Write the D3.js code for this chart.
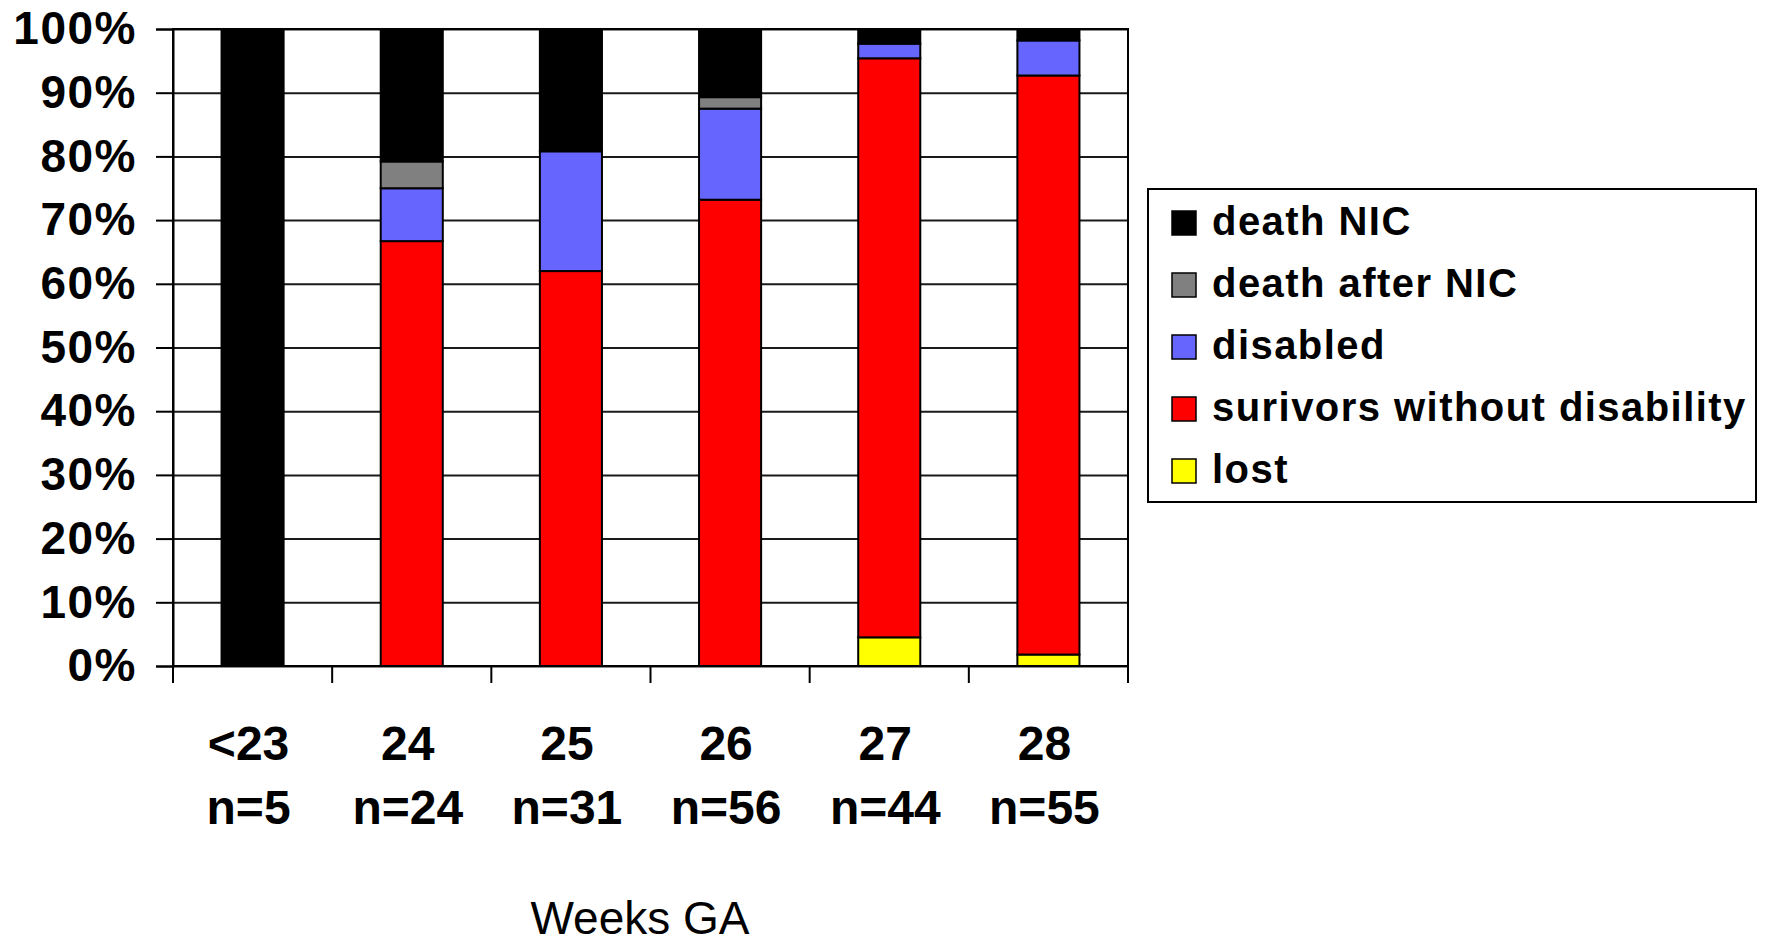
<!DOCTYPE html>
<html>
<head>
<meta charset="utf-8">
<script src="https://cdn.jsdelivr.net/npm/d3@7"></script>
<style>
  html, body { margin: 0; padding: 0; background: #fff; }
  svg { display: block; }
  text { font-family: Arial, "Liberation Sans", sans-serif; fill: #000; }
</style>
</head>
<body>
<svg id="chart" width="1765" height="945"></svg>
<script>
// Outcome by gestational age (percent of each group)
const categories = ["<23", "24", "25", "26", "27", "28"];
const groupSizes = ["n=5", "n=24", "n=31", "n=56", "n=44", "n=55"];

const lost       = [0,   0,    0,    0,    4.5,  1.8];
const survivors  = [0,   66.7, 62.0, 73.2, 90.9, 90.9];
const disabled   = [0,   8.3,  18.8, 14.3, 2.3,  5.5];
const deathAfter = [0,   4.2,  0,    1.8,  0,    0];
const deathNIC   = [100, 20.8, 19.2, 10.7, 2.3,  1.8];

const yTicks = [0, 10, 20, 30, 40, 50, 60, 70, 80, 90, 100];
const xTitle = "Weeks GA";

// stacking order: bottom first
const seriesKeys = ["lost", "survivors", "disabled", "deathAfter", "deathNIC"];
const seriesValues = { lost, survivors, disabled, deathAfter, deathNIC };
const seriesColors = {
  deathNIC: "#000000",
  deathAfter: "#808080",
  disabled: "#6666FF",
  survivors: "#FF0000",
  lost: "#FFFF00"
};
// legend order: top first
const legendKeys = ["deathNIC", "deathAfter", "disabled", "survivors", "lost"];
const legendLabels = ["death NIC", "death after NIC", "disabled", "surivors without disability", "lost"];

const rows = categories.map((c, i) => {
  const r = { cat: c };
  seriesKeys.forEach(k => r[k] = seriesValues[k][i]);
  return r;
});

const svg = d3.select("#chart");
const plot = { left: 173, right: 1128, top: 29, bottom: 666 };
const plotW = plot.right - plot.left;

const x = d3.scaleBand()
  .domain(categories)
  .range([plot.left, plot.right])
  .paddingInner(0.61)
  .paddingOuter(0.305);

const y = d3.scaleLinear().domain([0, 100]).range([plot.bottom, plot.top]);

// horizontal gridlines
svg.append("g")
  .attr("transform", `translate(${plot.left},0)`)
  .call(d3.axisLeft(y).tickValues(yTicks).tickSize(-plotW).tickFormat(""))
  .call(g => g.select(".domain").remove())
  .call(g => g.selectAll("line").attr("stroke", "#1a1a1a").attr("stroke-width", 2));

// stacked bars
const stack = d3.stack().keys(seriesKeys)(rows);
svg.append("g")
  .selectAll("g")
  .data(stack)
  .join("g")
  .attr("fill", d => seriesColors[d.key])
  .selectAll("rect")
  .data(d => d.filter(p => p[1] - p[0] > 0))
  .join("rect")
  .attr("x", d => x(d.data.cat))
  .attr("width", x.bandwidth())
  .attr("y", d => y(d[1]))
  .attr("height", d => y(d[0]) - y(d[1]))
  .attr("stroke", "#000")
  .attr("stroke-width", 2);

// plot frame
svg.append("rect")
  .attr("x", plot.left).attr("y", plot.top)
  .attr("width", plotW).attr("height", plot.bottom - plot.top)
  .attr("fill", "none").attr("stroke", "#000").attr("stroke-width", 2);

// y axis with percent labels
svg.append("g")
  .attr("transform", `translate(${plot.left},0)`)
  .call(d3.axisLeft(y).tickValues(yTicks).tickSize(17).tickPadding(19).tickFormat(d => d + "%"))
  .call(g => g.select(".domain").attr("stroke", "#000").attr("stroke-width", 2))
  .call(g => g.selectAll("line").attr("stroke", "#000").attr("stroke-width", 2))
  .call(g => g.selectAll("text")
    .attr("font-size", 46).attr("font-weight", "bold")
    .attr("letter-spacing", 1.5)
    .attr("font-family", "Arial, 'Liberation Sans', sans-serif")
    .attr("fill", "#000"));

// x axis: ticks at category boundaries
const boundaries = d3.range(categories.length + 1).map(i => x.range()[0] + i * x.step());
svg.append("g")
  .selectAll("line")
  .data(boundaries)
  .join("line")
  .attr("x1", d => d).attr("x2", d => d)
  .attr("y1", plot.bottom).attr("y2", plot.bottom + 17)
  .attr("stroke", "#000").attr("stroke-width", 2);

// category labels (two lines)
const labelG = svg.append("g")
  .attr("font-size", 48).attr("font-weight", "bold").attr("text-anchor", "middle");
labelG.selectAll("text.cat")
  .data(categories)
  .join("text")
  .attr("class", "cat")
  .attr("x", d => x(d) + x.bandwidth() / 2 - 4)
  .attr("y", 760)
  .text(d => d);
labelG.selectAll("text.n")
  .data(groupSizes)
  .join("text")
  .attr("class", "n")
  .attr("x", (d, i) => x(categories[i]) + x.bandwidth() / 2 - 4)
  .attr("y", 824)
  .text(d => d);

// axis title
svg.append("text")
  .attr("x", 640).attr("y", 934)
  .attr("text-anchor", "middle")
  .attr("font-size", 46)
  .text(xTitle);

// legend
const legend = svg.append("g");
legend.append("rect")
  .attr("x", 1148).attr("y", 189)
  .attr("width", 608).attr("height", 313)
  .attr("fill", "#fff").attr("stroke", "#000").attr("stroke-width", 2);

const items = legend.selectAll("g.item")
  .data(legendKeys)
  .join("g")
  .attr("class", "item")
  .attr("transform", (d, i) => `translate(1172,${211 + i * 62})`);
items.append("rect")
  .attr("width", 24).attr("height", 24)
  .attr("fill", d => seriesColors[d])
  .attr("stroke", "#000").attr("stroke-width", 1.5);
items.append("text")
  .attr("x", 40).attr("y", 24)
  .attr("font-size", 40).attr("font-weight", "bold")
  .attr("letter-spacing", 1.45)
  .text((d, i) => legendLabels[i]);
</script>
</body>
</html>
